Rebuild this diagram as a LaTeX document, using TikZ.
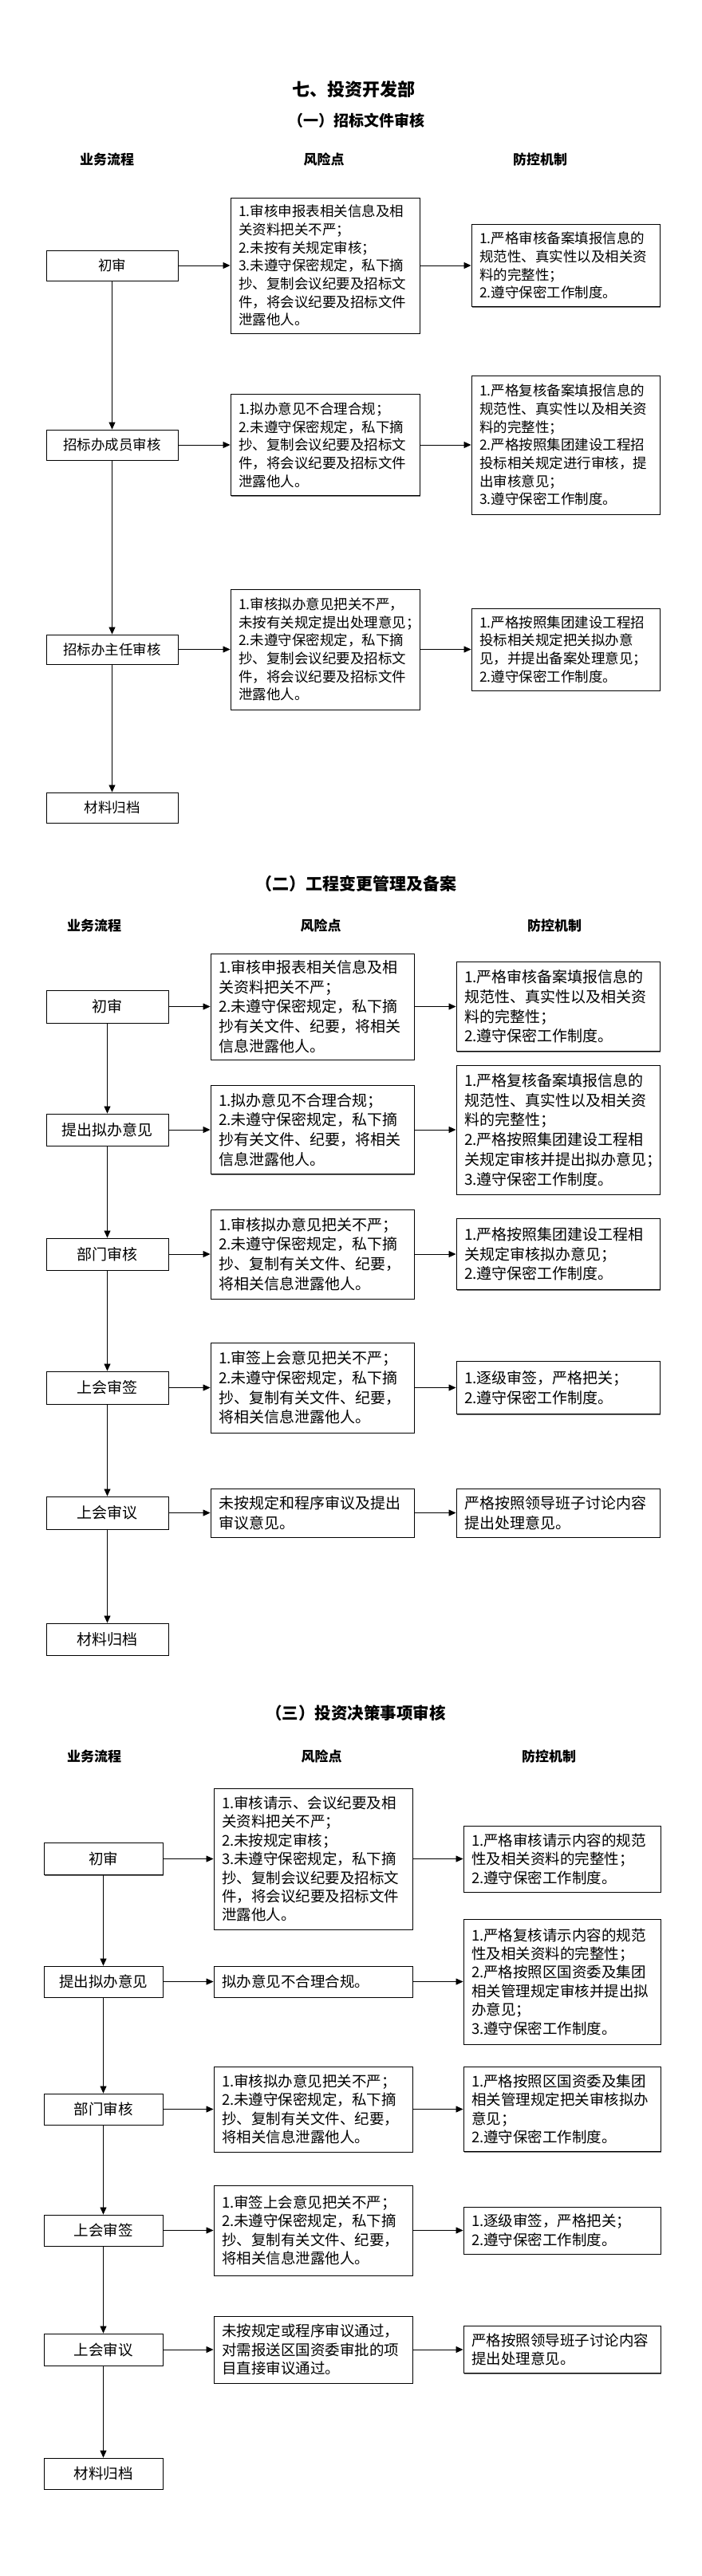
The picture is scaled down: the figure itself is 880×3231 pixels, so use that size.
\documentclass[tikz,border=0pt]{standalone}
\usepackage{fontspec}
\setmainfont{Noto Sans CJK SC}
\usetikzlibrary{arrows.meta,shadows}
\tikzset{
  box/.style={draw=black, line width=0.9pt, fill=white,
    drop shadow={shadow xshift=1.2pt, shadow yshift=-1.2pt, fill=black!55, opacity=1}},
  arr/.style={-{Triangle[length=9pt,width=8pt]}, line width=0.8pt},
  fa/.style={font=\fontsize{17.5}{22.7}\selectfont},
  fb/.style={font=\fontsize{19}{24.7}\selectfont},
  fc/.style={font=\fontsize{18.5}{23.4}\selectfont},
  txt/.style={box, align=left, inner xsep=10pt, inner ysep=0pt},
  % section 1
  pa/.style={box, fa, align=center, minimum width=165pt, minimum height=#1, inner sep=0pt},
  ra/.style={txt, fa, text width=217pt, minimum height=#1},
  ca/.style={txt, fa, text width=216pt, minimum height=#1},
  % section 2
  pb/.style={box, fb, align=center, minimum width=153pt, minimum height=#1, inner sep=0pt},
  rb/.style={txt, fb, text width=235pt, minimum height=#1},
  cb/.style={txt, fb, text width=235pt, minimum height=#1},
  % section 3
  pc/.style={box, fc, align=center, minimum width=149pt, minimum height=#1, inner sep=0pt},
  rc/.style={txt, fc, text width=229pt, minimum height=#1},
  cc/.style={txt, fc, text width=227pt, minimum height=#1},
  title/.style={font=\fontsize{22}{22}\selectfont\bfseries},
  subtitle/.style={font=\fontsize{#1}{#1}\selectfont\bfseries},
  hdr/.style={font=\fontsize{17}{17}\selectfont\bfseries},
}
\begin{document}
\begin{tikzpicture}[x=1pt,y=-1pt]
\path[use as bounding box] (0,0) rectangle (880,3231);

% ===== Section 1 =====
\node[title] (t0) at (443,112) {七、投资开发部};
\node[subtitle=19] (s1) at (447,151) {（一）招标文件审核};
\node[hdr] (h11) at (134,200) {业务流程};
\node[hdr] (h12) at (406,200) {风险点};
\node[hdr] (h13) at (677,200) {防控机制};

\node[pa=38pt] (p11) at (140.5,333) {初审};
\node[ra=170pt] (r11) at (407.5,333) {1.审核申报表相关信息及相\\关资料把关不严；\\2.未按有关规定审核；\\3.未遵守保密规定，私下摘\\抄、复制会议纪要及招标文\\件，将会议纪要及招标文件\\泄露他人。};
\node[ca=103pt] (c11) at (709,333) {1.严格审核备案填报信息的\\规范性、真实性以及相关资\\料的完整性；\\2.遵守保密工作制度。};

\node[pa=38pt] (p12) at (140.5,558) {招标办成员审核};
\node[ra=127pt] (r12) at (407.5,558) {1.拟办意见不合理合规；\\2.未遵守保密规定，私下摘\\抄、复制会议纪要及招标文\\件，将会议纪要及招标文件\\泄露他人。};
\node[ca=174pt] (c12) at (709,558) {1.严格复核备案填报信息的\\规范性、真实性以及相关资\\料的完整性；\\2.严格按照集团建设工程招\\投标相关规定进行审核，提\\出审核意见；\\3.遵守保密工作制度。};

\node[pa=37pt] (p13) at (140.5,814.5) {招标办主任审核};
\node[ra=151pt] (r13) at (407.5,814.5) {1.审核拟办意见把关不严，\\未按有关规定提出处理意见；\\2.未遵守保密规定，私下摘\\抄、复制会议纪要及招标文\\件，将会议纪要及招标文件\\泄露他人。};
\node[ca=103pt] (c13) at (709,814.5) {1.严格按照集团建设工程招\\投标相关规定把关拟办意\\见，并提出备案处理意见；\\2.遵守保密工作制度。};

\node[pa=38pt] (p14) at (140.5,1013) {材料归档};

\foreach \i in {1,2,3}{
  \draw[arr] (p1\i) -- (r1\i);
  \draw[arr] (r1\i) -- (c1\i);
}
\draw[arr] (p11) -- (p12);
\draw[arr] (p12) -- (p13);
\draw[arr] (p13) -- (p14);

% ===== Section 2 =====
\node[subtitle=21] (s2) at (446,1108) {（二）工程变更管理及备案};
\node[hdr] (h21) at (118,1161) {业务流程};
\node[hdr] (h22) at (402,1161) {风险点};
\node[hdr] (h23) at (695,1161) {防控机制};

\node[pb=41pt] (p21) at (134.5,1262.5) {初审};
\node[rb=133pt] (r21) at (391.5,1262.5) {1.审核申报表相关信息及相\\关资料把关不严；\\2.未遵守保密规定，私下摘\\抄有关文件、纪要，将相关\\信息泄露他人。};
\node[cb=112pt] (c21) at (699.5,1262.5) {1.严格审核备案填报信息的\\规范性、真实性以及相关资\\料的完整性；\\2.遵守保密工作制度。};

\node[pb=40pt] (p22) at (134.5,1417) {提出拟办意见};
\node[rb=111pt] (r22) at (391.5,1417) {1.拟办意见不合理合规；\\2.未遵守保密规定，私下摘\\抄有关文件、纪要，将相关\\信息泄露他人。};
\node[cb=162pt] (c22) at (699.5,1417) {1.严格复核备案填报信息的\\规范性、真实性以及相关资\\料的完整性；\\2.严格按照集团建设工程相\\关规定审核并提出拟办意见；\\3.遵守保密工作制度。};

\node[pb=40pt] (p23) at (134.5,1573) {部门审核};
\node[rb=112pt] (r23) at (391.5,1573) {1.审核拟办意见把关不严；\\2.未遵守保密规定，私下摘\\抄、复制有关文件、纪要，\\将相关信息泄露他人。};
\node[cb=89pt] (c23) at (699.5,1573) {1.严格按照集团建设工程相\\关规定审核拟办意见；\\2.遵守保密工作制度。};

\node[pb=41pt] (p24) at (134.5,1740.5) {上会审签};
\node[rb=113pt] (r24) at (391.5,1740.5) {1.审签上会意见把关不严；\\2.未遵守保密规定，私下摘\\抄、复制有关文件、纪要，\\将相关信息泄露他人。};
\node[cb=66pt] (c24) at (699.5,1740.5) {1.逐级审签，严格把关；\\2.遵守保密工作制度。};

\node[pb=41pt] (p25) at (134.5,1897.5) {上会审议};
\node[rb=61pt] (r25) at (391.5,1897.5) {未按规定和程序审议及提出\\审议意见。};
\node[cb=61pt] (c25) at (699.5,1897.5) {严格按照领导班子讨论内容\\提出处理意见。};

\node[pb=40pt] (p26) at (134.5,2056) {材料归档};

\foreach \i in {1,...,5}{
  \draw[arr] (p2\i) -- (r2\i);
  \draw[arr] (r2\i) -- (c2\i);
}
\draw[arr] (p21) -- (p22);
\draw[arr] (p22) -- (p23);
\draw[arr] (p23) -- (p24);
\draw[arr] (p24) -- (p25);
\draw[arr] (p25) -- (p26);

% ===== Section 3 =====
\node[subtitle=20.5] (s3) at (446,2149) {（三）投资决策事项审核};
\node[hdr] (h31) at (118,2203) {业务流程};
\node[hdr] (h32) at (403,2203) {风险点};
\node[hdr] (h33) at (688,2203) {防控机制};

\node[pc=40pt] (p31) at (129.5,2331.5) {初审};
\node[rc=177pt] (r31) at (392.5,2331.5) {1.审核请示、会议纪要及相\\关资料把关不严；\\2.未按规定审核；\\3.未遵守保密规定，私下摘\\抄、复制会议纪要及招标文\\件，将会议纪要及招标文件\\泄露他人。};
\node[cc=83pt] (c31) at (704.5,2331.5) {1.严格审核请示内容的规范\\性及相关资料的完整性；\\2.遵守保密工作制度。};

\node[pc=39pt] (p32) at (129.5,2485.5) {提出拟办意见};
\node[rc=39pt] (r32) at (392.5,2485.5) {拟办意见不合理合规。};
\node[cc=157pt] (c32) at (704.5,2485.5) {1.严格复核请示内容的规范\\性及相关资料的完整性；\\2.严格按照区国资委及集团\\相关管理规定审核并提出拟\\办意见；\\3.遵守保密工作制度。};

\node[pc=39pt] (p33) at (129.5,2645.5) {部门审核};
\node[rc=107pt] (r33) at (392.5,2645.5) {1.审核拟办意见把关不严；\\2.未遵守保密规定，私下摘\\抄、复制有关文件、纪要，\\将相关信息泄露他人。};
\node[cc=106pt] (c33) at (704.5,2645.5) {1.严格按照区国资委及集团\\相关管理规定把关审核拟办\\意见；\\2.遵守保密工作制度。};

\node[pc=39pt] (p34) at (129.5,2797.5) {上会审签};
\node[rc=113pt] (r34) at (392.5,2797.5) {1.审签上会意见把关不严；\\2.未遵守保密规定，私下摘\\抄、复制有关文件、纪要，\\将相关信息泄露他人。};
\node[cc=59pt] (c34) at (704.5,2797.5) {1.逐级审签，严格把关；\\2.遵守保密工作制度。};

\node[pc=40pt] (p35) at (129.5,2947) {上会审议};
\node[rc=84pt] (r35) at (392.5,2947) {未按规定或程序审议通过，\\对需报送区国资委审批的项\\目直接审议通过。};
\node[cc=59pt] (c35) at (704.5,2947) {严格按照领导班子讨论内容\\提出处理意见。};

\node[pc=39pt] (p36) at (129.5,3102.5) {材料归档};

\foreach \i in {1,...,5}{
  \draw[arr] (p3\i) -- (r3\i);
  \draw[arr] (r3\i) -- (c3\i);
}
\draw[arr] (p31) -- (p32);
\draw[arr] (p32) -- (p33);
\draw[arr] (p33) -- (p34);
\draw[arr] (p34) -- (p35);
\draw[arr] (p35) -- (p36);
\end{tikzpicture}
\end{document}
